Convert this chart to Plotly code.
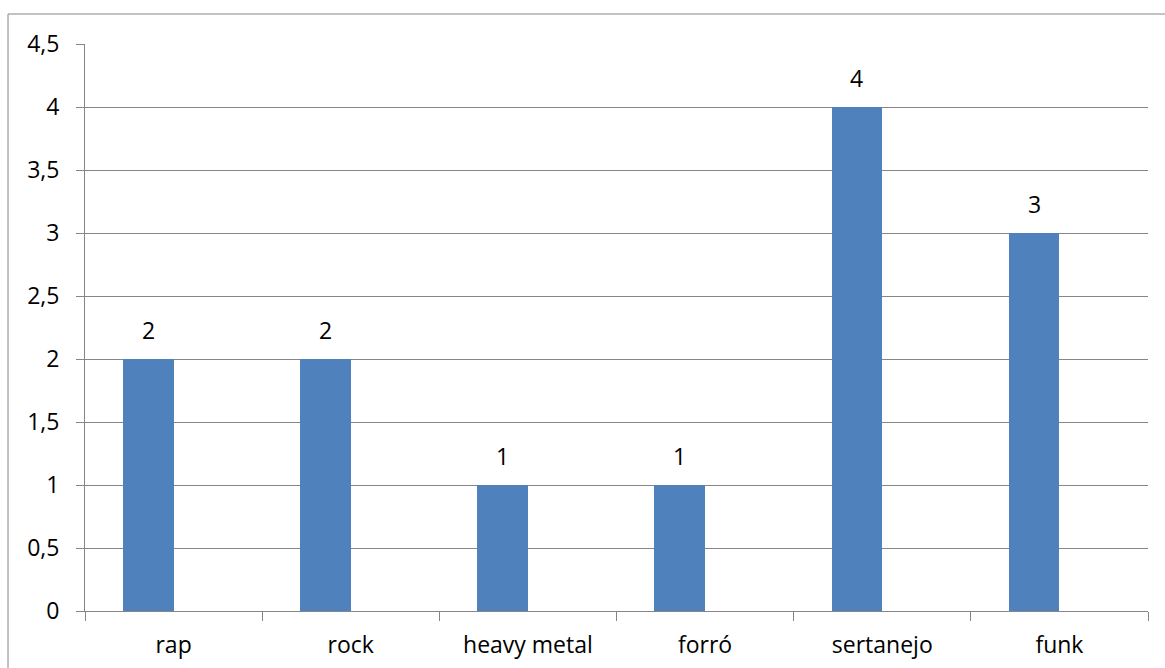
import plotly.graph_objects as go

# Survey results: favourite music genres
genres = ["rap", "rock", "heavy metal", "forró", "sertanejo", "funk"]
votes = [2, 2, 1, 1, 4, 3]
y_tick_values = [0, 0.5, 1, 1.5, 2, 2.5, 3, 3.5, 4, 4.5]

W, H = 1165, 668
L, R, T, B = 85, 17, 44, 57
plot_w = W - L - R
plot_h = H - T - B

GRID = "#868686"
BAR = "#4F81BD"
FONT = dict(family="Open Sans", size=23, color="#000000")

bar_frac = 1 / 3.5            # bar width as share of a category slot
half_bar_px = plot_w / len(genres) * bar_frac / 2

fig = go.Figure()
fig.add_trace(go.Bar(
    x=genres,
    y=votes,
    width=bar_frac,
    offset=-bar_frac,
    marker=dict(color=BAR, line=dict(width=0)),
    hoverinfo="x+y",
))

# value labels above each bar
for g, v in zip(genres, votes):
    fig.add_annotation(
        x=g, y=v, text=str(v), showarrow=False,
        xshift=-half_bar_px, yanchor="bottom", yshift=11,
        font=FONT,
    )

# outer chart frame
fig.add_shape(
    type="rect", xref="paper", yref="paper",
    x0=(8 - L) / plot_w, x1=(W + 5 - L) / plot_w,
    y0=-(B + 5) / plot_h, y1=(plot_h + T - 14) / plot_h,
    line=dict(color=GRID, width=1), fillcolor="rgba(0,0,0,0)",
    layer="below",
)

fig.update_layout(
    width=W, height=H,
    margin=dict(l=L, r=R, t=T, b=B, pad=0, autoexpand=False),
    paper_bgcolor="white", plot_bgcolor="white",
    separators=",.",
    showlegend=False,
    font=FONT,
    bargap=0,
)
fig.update_xaxes(
    type="category",
    range=[-0.5, len(genres) - 0.5],
    automargin=False,
    showline=True, linecolor=GRID, linewidth=1,
    ticks="outside", tickson="boundaries", ticklen=9, tickcolor=GRID, tickwidth=1,
    showgrid=False, zeroline=False,
    ticklabelstandoff=13,
    tickfont=FONT,
)
fig.update_yaxes(
    range=[0, 4.5],
    tickvals=y_tick_values,
    automargin=False,
    showline=True, linecolor=GRID, linewidth=1,
    ticks="outside", ticklen=8, tickcolor=GRID, tickwidth=1,
    showgrid=True, gridcolor=GRID, gridwidth=1,
    zeroline=False,
    ticklabelstandoff=12,
    tickfont=FONT,
)

fig.write_html("out.html")
